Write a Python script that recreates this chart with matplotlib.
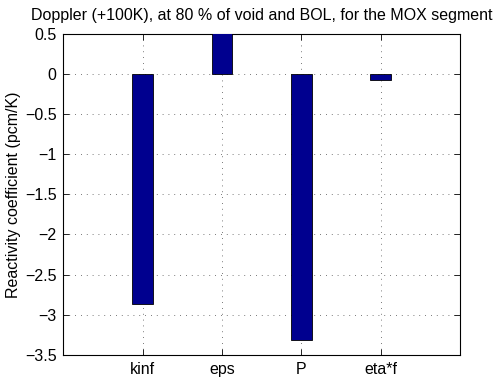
import matplotlib
matplotlib.use('Agg')
from matplotlib import pyplot as plt

# Doppler reactivity coefficient split into factors
labels = ['kinf', 'eps', 'P', 'eta*f']
posisi = [1, 2, 3, 4]
koefisien = [-2.86, 0.8, -3.31, -0.08]

plt.rcParams['font.family'] = ['Liberation Sans', 'DejaVu Sans']
plt.rcParams['font.size'] = 11.5

fig = plt.figure(figsize=(4.98, 3.83), dpi=100)
ax = fig.add_axes([0.1275, 0.073, 0.7962, 0.8395])

ax.bar(posisi, koefisien, width=0.26, color=(0, 0, 0.5625),
       edgecolor='black', linewidth=0.6, zorder=3)

ax.set_xlim(0, 5)
ax.set_ylim(-3.5, 0.5)
ax.set_xticks(posisi)
ax.set_xticklabels(labels)
ax.set_yticks([0.5, 0, -0.5, -1, -1.5, -2, -2.5, -3, -3.5])
ax.set_yticklabels(['0.5', '0', '\u22120.5', '\u22121', '\u22121.5', '\u22122',
                    '\u22122.5', '\u22123', '\u22123.5'])
ax.tick_params(direction='in', top=True, right=True, length=4, width=0.6,
               labelsize=11.5, pad=5)
ax.grid(True, linestyle=(0, (1, 6)), color='black', linewidth=0.6, alpha=0.7)
for s in ax.spines.values():
    s.set_linewidth(0.8)

ax.set_ylabel('Reactivity coefficient (pcm/K)', fontsize=11.5, labelpad=3)
ax.set_title('Doppler (+100K), at 80 % of void and BOL, for the MOX segment',
             fontsize=11.5, pad=10)

fig.savefig('out.png', dpi=100)
